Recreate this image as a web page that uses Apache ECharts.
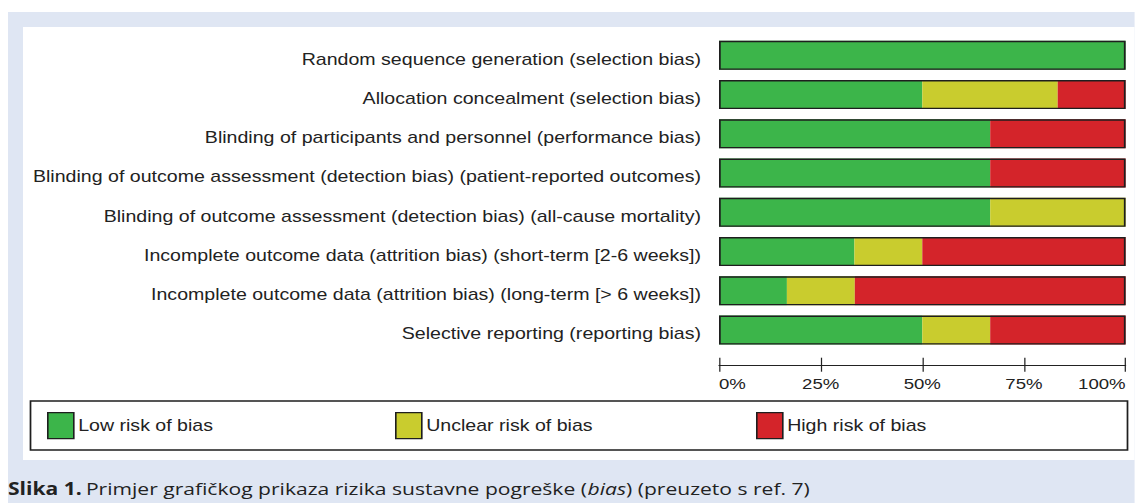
<!DOCTYPE html>
<html>
<head>
<meta charset="utf-8">
<script src="https://cdn.jsdelivr.net/npm/echarts@6/dist/echarts.min.js"></script>
<style>
html,body{margin:0;padding:0;background:#ffffff;overflow:hidden;width:1135px;height:503px;}
#chart{width:915.3px;height:503px;transform:scaleX(1.24);transform-origin:0 0;}
</style>
</head>
<body>
<div id="chart"></div>
<script>
var categories = [
  'Random sequence generation (selection bias)',
  'Allocation concealment (selection bias)',
  'Blinding of participants and personnel (performance bias)',
  'Blinding of outcome assessment (detection bias) (patient-reported outcomes)',
  'Blinding of outcome assessment (detection bias) (all-cause mortality)',
  'Incomplete outcome data (attrition bias) (short-term [2-6 weeks])',
  'Incomplete outcome data (attrition bias) (long-term [> 6 weeks])',
  'Selective reporting (reporting bias)'
];
var seriesNames = ['Low risk of bias', 'Unclear risk of bias', 'High risk of bias'];
var lowRisk     = [100, 50, 66.7, 66.7, 66.7, 33.3, 16.7, 50];
var unclearRisk = [0, 33.3, 0, 0, 33.3, 16.7, 16.7, 16.7];
var highRisk    = [0, 16.7, 33.3, 33.3, 0, 50, 66.6, 33.3];
var outlineVals = [100, 100, 100, 100, 100, 100, 100, 100];
var tickLabels  = ['0%', '25%', '50%', '75%', '100%'];

var colors = ['#3cb54a', '#c9cc2e', '#d4242a'];
var labelFont = '"Liberation Sans", Arial, sans-serif';
var SX = 1.24; // horizontal stretch of the whole picture
function px(v) { return v / SX; }

var chart = echarts.init(document.getElementById('chart'), null, {renderer: 'svg'});

function mkLegend(i, left) {
  return {
    show: true,
    left: px(left),
    top: 412,
    padding: 0,
    itemWidth: px(26),
    itemHeight: 26,
    itemGap: 0,
    itemStyle: {borderColor: '#1e1e1e', borderWidth: 1.3},
    textStyle: {fontFamily: labelFont, fontSize: 15.8, color: '#222', padding: [0, 0, 0, -1.5]},
    selectedMode: false,
    data: [{name: seriesNames[i], icon: 'rect'}]
  };
}

var W = 1135 / SX;
var option = {
  animation: false,
  backgroundColor: '#ffffff',
  graphic: [
    {type: 'rect', silent: true, z: -10, shape: {x: px(8), y: 12, width: W - px(8), height: 491}, style: {fill: '#dfe6f3'}},
    {type: 'rect', silent: true, z: -9, shape: {x: px(23), y: 27, width: W - px(23), height: 433}, style: {fill: '#ffffff'}},
    {type: 'rect', silent: true, z: -8, shape: {x: px(30.5), y: 401, width: px(1097), height: 49}, style: {fill: 'none', stroke: '#1e1e1e', lineWidth: 1.4}},
    {type: 'text', silent: true, left: px(8), top: 480, style: {
      text: '{b|Slika 1.} {n|Primjer grafičkog prikaza rizika sustavne pogreške (}{i|bias}{n|) (preuzeto s ref. 7)}',
      rich: {
        b: {fontFamily: '"Open Sans", sans-serif', fontWeight: 'bold', fontSize: 17, fill: '#222'},
        n: {fontFamily: '"Open Sans", sans-serif', fontSize: 17, fill: '#222'},
        i: {fontFamily: '"Open Sans", sans-serif', fontStyle: 'italic', fontSize: 17, fill: '#222'}
      }
    }}
  ],
  legend: [mkLegend(0, 47), mkLegend(1, 395), mkLegend(2, 756)],
  grid: {left: px(719), right: px(9), top: 35.7, height: 314, containLabel: false},
  xAxis: [{
    type: 'value', min: 0, max: 100, interval: 25,
    position: 'bottom', offset: 16,
    axisLine: {show: true, lineStyle: {color: '#222', width: 1}},
    axisTick: {show: true, inside: true, length: 8, lineStyle: {color: '#222', width: 1}},
    splitLine: {show: false},
    axisLabel: {
      show: true, margin: 11, color: '#222', fontFamily: labelFont, fontSize: 15,
      formatter: function (v) { return tickLabels[Math.round(v / 25)]; },
      alignMinLabel: 'left', alignMaxLabel: 'right'
    }
  }, {
    type: 'value', min: 0, max: 100, interval: 25,
    position: 'bottom', offset: 16,
    axisLine: {show: false},
    axisTick: {show: true, inside: false, length: 6, lineStyle: {color: '#222', width: 1}},
    splitLine: {show: false},
    axisLabel: {show: false}
  }],
  yAxis: {
    type: 'category', inverse: true, data: categories,
    axisLine: {show: false}, axisTick: {show: false}, splitLine: {show: false},
    axisLabel: {
      margin: px(18), color: '#222', fontFamily: labelFont, fontSize: 15.8,
      formatter: function (v) { return '{a|' + v + '}'; },
      rich: {a: {fontFamily: labelFont, fontSize: 15.8, color: '#222', padding: [8, 0, 0, 0]}}
    }
  },
  series: [
    {name: seriesNames[0], type: 'bar', stack: 'rob', barWidth: 29, data: lowRisk, itemStyle: {color: colors[0]}, silent: true},
    {name: seriesNames[1], type: 'bar', stack: 'rob', barWidth: 29, data: unclearRisk, itemStyle: {color: colors[1]}, silent: true},
    {name: seriesNames[2], type: 'bar', stack: 'rob', barWidth: 29, data: highRisk, itemStyle: {color: colors[2]}, silent: true},
    {name: 'outline', type: 'bar', barWidth: 29, barGap: '-100%', z: 5, data: outlineVals, silent: true,
      itemStyle: {color: 'rgba(0,0,0,0)', borderColor: '#1e1e1e', borderWidth: 1.4}}
  ]
};
chart.setOption(option);
</script>
</body>
</html>
